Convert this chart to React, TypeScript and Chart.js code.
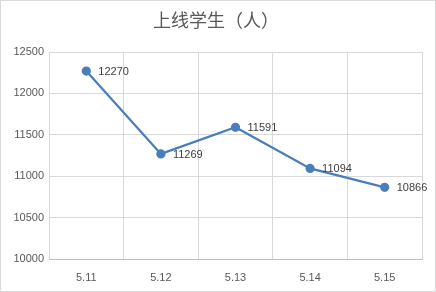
import React, { useEffect, useRef } from "react";
import { Chart, registerables } from "chart.js";

Chart.register(...registerables);

const categories = ["5.11", "5.12", "5.13", "5.14", "5.15"];
const students = [12270, 11269, 11591, 11094, 10866];
const yTicks = [10000, 10500, 11000, 11500, 12000, 12500];
const title = "上线学生（人）";

const labelPlugin = {
  id: "pointLabels",
  afterDatasetsDraw(chart: any) {
    const ctx = chart.ctx;
    const meta = chart.getDatasetMeta(0);
    ctx.save();
    ctx.font = "11px 'Liberation Sans', 'DejaVu Sans', sans-serif";
    ctx.fillStyle = "#404040";
    ctx.textAlign = "left";
    ctx.textBaseline = "middle";
    meta.data.forEach((pt: any, i: number) => {
      ctx.fillText(String(students[i]), pt.x + 12, pt.y + 1);
    });
    ctx.restore();
  },
};

const titlePlugin = {
  id: "customTitle",
  afterDraw(chart: any) {
    const ctx = chart.ctx;
    ctx.save();
    ctx.font = "18px 'Noto Sans CJK SC', sans-serif";
    ctx.fillStyle = "#595959";
    ctx.textAlign = "center";
    ctx.textBaseline = "middle";
    ctx.fillText(title, 216, 20);
    ctx.restore();
  },
};

export default function App() {
  const ref = useRef<HTMLCanvasElement | null>(null);
  useEffect(() => {
    document.body.style.margin = "0";
    if (!ref.current) return;
    const chart = new Chart(ref.current, {
      type: "line",
      data: {
        labels: categories,
        datasets: [
          {
            data: students,
            borderColor: "#4a7ebb",
            backgroundColor: "#4a7ebb",
            borderWidth: 2.25,
            pointRadius: 3.5,
            pointHoverRadius: 3.5,
            tension: 0,
          },
        ],
      },
      options: {
        animation: false,
        responsive: false,
        maintainAspectRatio: false,
        layout: { padding: { left: 0, right: 14, top: 52, bottom: 0 } },
        plugins: {
          legend: { display: false },
          tooltip: { enabled: false },
          title: { display: false },
        },
        scales: {
          x: {
            offset: true,
            grid: { color: "#d9d9d9", offset: true, drawTicks: false },
            border: { color: "#bfbfbf" },
            ticks: {
              color: "#595959",
              font: { family: "'Liberation Sans', sans-serif", size: 11 },
              padding: 12,
            },
            afterFit(scale: any) {
              scale.height = 33;
            },
          },
          y: {
            min: 10000,
            max: 12500,
            afterBuildTicks(scale: any) {
              scale.ticks = yTicks.map((v) => ({ value: v }));
            },
            grid: { color: "#d9d9d9", drawTicks: false },
            border: { display: false },
            ticks: {
              color: "#595959",
              font: { family: "'Liberation Sans', sans-serif", size: 11 },
              padding: 5,
              callback: (v: any) => String(v),
            },
            afterFit(scale: any) {
              scale.width = 49;
            },
          },
        },
      },
      plugins: [labelPlugin, titlePlugin],
    });
    return () => chart.destroy();
  }, []);
  return (
    <div style={{ position: "relative", width: 436, height: 292 }}>
      <canvas ref={ref} width={436} height={292} style={{ display: "block" }} />
      <div
        style={{
          position: "absolute",
          left: 0,
          top: 0,
          width: 434,
          height: 290,
          border: "1px solid #d9d9d9",
          pointerEvents: "none",
        }}
      />
    </div>
  );
}
